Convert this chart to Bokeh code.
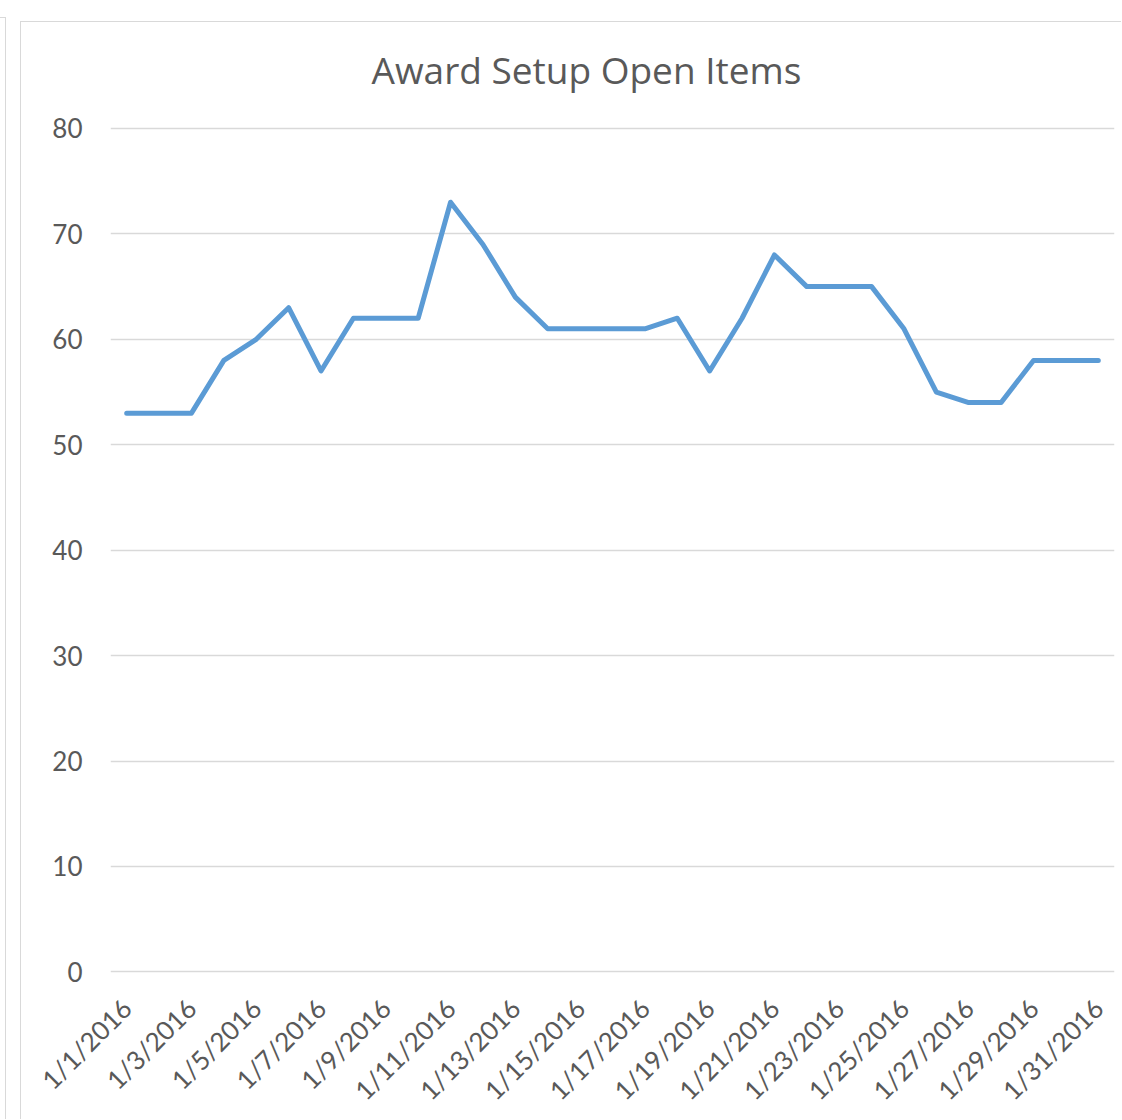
from datetime import datetime
from math import pi

from bokeh.plotting import figure
from bokeh.layouts import column
from bokeh.models import Range1d, FixedTicker, ColumnDataSource, Label
from bokeh.embed import file_html
from bokeh.resources import INLINE

# ---- data ----
dates = ["1/1/2016", "1/2/2016", "1/3/2016", "1/4/2016", "1/5/2016", "1/6/2016",
         "1/7/2016", "1/8/2016", "1/9/2016", "1/10/2016", "1/11/2016", "1/12/2016",
         "1/13/2016", "1/14/2016", "1/15/2016", "1/16/2016", "1/17/2016", "1/18/2016",
         "1/19/2016", "1/20/2016", "1/21/2016", "1/22/2016", "1/23/2016", "1/24/2016",
         "1/25/2016", "1/26/2016", "1/27/2016", "1/28/2016", "1/29/2016", "1/30/2016",
         "1/31/2016"]
open_items = [53, 53, 53, 58, 60, 63, 57, 62, 62, 62, 73, 69, 64, 61, 61, 61, 61,
              62, 57, 62, 68, 65, 65, 65, 61, 55, 54, 54, 58, 58, 58]
tick_labels = dates[::2]
y_ticks = [0, 10, 20, 30, 40, 50, 60, 70, 80]
title_text = "Award Setup Open Items"

# ---- derived ----
def parse(s):
    return datetime.strptime(s, "%m/%d/%Y")

xs = [parse(d) for d in dates]
src = ColumnDataSource(dict(x=xs, y=open_items))
epoch = datetime(1970, 1, 1)
tick_ms = [(parse(d) - epoch).total_seconds() * 1000.0 for d in tick_labels]
overrides = {t: lab for t, lab in zip(tick_ms, tick_labels)}

TEXT = "#595959"
GRID = "#d9d9d9"
FONT = "Lato"

half_day_ms = 12 * 3600 * 1000.0
x_start = (xs[0] - epoch).total_seconds() * 1000.0 - half_day_ms
x_end = (xs[-1] - epoch).total_seconds() * 1000.0 + half_day_ms
pad_bottom = 0.15
headroom = 10.05   # empty space above the top gridline, holds the title

W, H = 1101, 1098

p = figure(width=W, height=H, x_axis_type="datetime", title=None,
           x_range=Range1d(x_start, x_end),
           y_range=Range1d(y_ticks[0] - pad_bottom, y_ticks[-1] + headroom),
           output_backend="svg", toolbar_location=None,
           min_border_left=89, min_border_right=8, min_border_top=0,
           min_border_bottom=0)
p.styles = {"margin-left": "20px", "margin-top": "21px",
            "border-left": "1px solid #d9d9d9", "border-top": "1px solid #d9d9d9"}

p.outline_line_color = None
p.background_fill_color = "white"
p.border_fill_color = "white"

# chart title, placed in screen units inside the plot frame
title = Label(x=261, y=904, x_units="screen", y_units="screen",
              text=title_text, text_font="Open Sans", text_font_size="37px",
              text_color=TEXT, text_baseline="alphabetic", text_align="left")
p.add_layout(title)

p.line("x", "y", source=src, line_color="#5B9BD5", line_width=5,
       line_join="round", line_cap="round")

p.xgrid.grid_line_color = None
p.ygrid.grid_line_color = GRID
p.ygrid.grid_line_width = 1.5
p.yaxis.ticker = FixedTicker(ticks=y_ticks)
p.xaxis.ticker = FixedTicker(ticks=tick_ms)
p.xaxis.major_label_overrides = overrides

for ax in (p.xaxis[0], p.yaxis[0]):
    ax.axis_line_color = None
    ax.major_tick_line_color = None
    ax.minor_tick_line_color = None
    ax.major_label_text_font = FONT
    ax.major_label_text_color = TEXT

p.yaxis.major_label_text_font_size = "26px"
p.xaxis.major_label_text_font_size = "26px"
p.yaxis.major_label_standoff = 22
p.xaxis.major_label_standoff = 24
p.xaxis.major_label_orientation = pi / 4

layout = column(p, styles={
    "background": "linear-gradient(#d9d9d9, #d9d9d9) 5px 17px / 1px 1200px no-repeat, "
                  "linear-gradient(#d9d9d9, #d9d9d9) 0px 17px / 6px 1px no-repeat"})

open("out.html", "w").write(file_html(layout, INLINE))
